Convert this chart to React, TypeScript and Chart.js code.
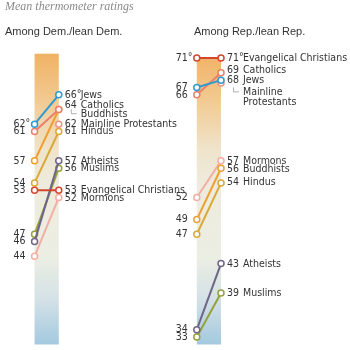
import React, { useEffect, useRef } from "react";
import { Chart, registerables } from "chart.js";
Chart.register(...registerables);

// ---- data ----
const GROUPS = [
  "Jews",
  "Catholics",
  "Buddhists",
  "Mainline Protestants",
  "Hindus",
  "Atheists",
  "Muslims",
  "Evangelical Christians",
  "Mormons",
];
const DEM_2014: (number | null)[] = [62, 61, 57, null, 54, 46, 47, 53, 44];
const DEM_2017: number[] = [66, 64, 64, 62, 61, 57, 56, 53, 52];
const REP_2014: (number | null)[] = [67, 66, 49, null, 47, 34, 33, 71, 52];
const REP_2017: number[] = [68, 69, 56, 67.6, 54, 43, 39, 71, 57];
const PANEL_TITLES = ["Among Dem./lean Dem.", "Among Rep./lean Rep."];
const CHART_TITLE = "Mean thermometer ratings";

// ---- styles / layout ----
const COLORS = [
  "#2E9AD0",
  "#E9806C",
  "#EF9F2E",
  "#EE9384",
  "#D9A935",
  "#6F6587",
  "#97A13A",
  "#D4462D",
  "#F4AEA3",
];
const DRAW_ORDER = [7, 0, 1, 2, 3, 4, 5, 6, 8];
const DEM_X = [0, 1];
const REP_X = [6.7, 7.7];
const DEM_RIGHT_DY = [0, -4, 4.7, 0, 0, 0, 0, 0, 0.7];
const REP_RIGHT_DY = [-0.3, -2.2, 0.7, 9.3, -0.8, 0.2, 0, 0, 0.3];
const DEM_SHARED = [false, false, true, false, false, false, false, false, false];
const REP_SHARED = [false, false, false, true, false, false, false, false, false];
const REP_NAME_LINES: Record<number, string[]> = { 3: ["Mainline", "Protestants"] };
const BAR_TOP = [71.6, 70.9];
const LABEL_FONT = '10.5px "Liberation Sans Narrow", "DejaVu Sans Condensed", Arial, sans-serif';
const TEXT = "#333333";

export default function App() {
  const ref = useRef<HTMLCanvasElement | null>(null);
  useEffect(() => {
    if (!ref.current) return;
    const datasets: any[] = [];
    const panels = [
      { x: DEM_X, a: DEM_2014, b: DEM_2017 },
      { x: REP_X, a: REP_2014, b: REP_2017 },
    ];
    panels.forEach((p) => {
      DRAW_ORDER.forEach((i) => {
        const data: any[] = [];
        if (p.a[i] != null) data.push({ x: p.x[0], y: p.a[i] });
        data.push({ x: p.x[1], y: p.b[i] });
        datasets.push({
          label: GROUPS[i],
          data,
          borderColor: COLORS[i],
          backgroundColor: "#ffffff",
          pointBackgroundColor: "#ffffff",
          pointBorderColor: COLORS[i],
          pointBorderWidth: 1.5,
          pointRadius: 3,
          borderWidth: 2,
          tension: 0,
        });
      });
    });

    const bars = {
      id: "bars",
      beforeDatasetsDraw(chart: any) {
        const { ctx, scales, chartArea } = chart;
        const xs = scales.x;
        const ys = scales.y;
        const g0 = ys.getPixelForValue(72);
        const g1 = ys.getPixelForValue(32);
        [DEM_X, REP_X].forEach((px, k) => {
          const x0 = xs.getPixelForValue(px[0]);
          const x1 = xs.getPixelForValue(px[1]);
          const top = ys.getPixelForValue(BAR_TOP[k]);
          const grad = ctx.createLinearGradient(0, g0, 0, g1);
          grad.addColorStop(0, "#F0B061");
          grad.addColorStop(0.175, "#F2CB94");
          grad.addColorStop(0.34, "#EFE4CC");
          grad.addColorStop(0.45, "#EEEBDD");
          grad.addColorStop(0.7, "#ECEEE3");
          grad.addColorStop(0.85, "#D3E1E6");
          grad.addColorStop(1, "#A3C9DF");
          ctx.save();
          ctx.fillStyle = grad;
          ctx.fillRect(x0, top, x1 - x0, chartArea.bottom - top);
          ctx.restore();
        });
      },
    };

    const labels = {
      id: "labels",
      afterDatasetsDraw(chart: any) {
        const { ctx, scales } = chart;
        const xs = scales.x;
        const ys = scales.y;
        ctx.save();
        ctx.textBaseline = "middle";
        // title
        ctx.fillStyle = "#8a8a8a";
        ctx.font = 'italic 12px "Liberation Serif", "Times New Roman", serif';
        ctx.textAlign = "left";
        ctx.fillText(CHART_TITLE, 5, 7);
        ctx.fillStyle = TEXT;
        ctx.font = '11px "Liberation Sans", Arial, sans-serif';
        ctx.fillText(PANEL_TITLES[0], 5, 32);
        ctx.fillText(PANEL_TITLES[1], 194, 32);

        ctx.font = LABEL_FONT;
        const cfg = [
          { x: DEM_X, a: DEM_2014, b: DEM_2017, dy: DEM_RIGHT_DY, shared: DEM_SHARED, lines: {} as Record<number, string[]> },
          { x: REP_X, a: REP_2014, b: REP_2017, dy: REP_RIGHT_DY, shared: REP_SHARED, lines: REP_NAME_LINES },
        ];
        cfg.forEach((p) => {
          const xl = xs.getPixelForValue(p.x[0]);
          const xr = xs.getPixelForValue(p.x[1]);
          const maxA = Math.max(...(p.a.filter((v) => v != null) as number[]));
          const maxB = Math.max(...p.b);
          // left values
          p.a.forEach((v) => {
            if (v == null) return;
            const y = ys.getPixelForValue(v);
            ctx.textAlign = "right";
            ctx.fillText(String(Math.round(v)), xl - 9, y);
            if (v === maxA) {
              ctx.textAlign = "left";
              ctx.fillText("°", xl - 9, y - 0.5);
            }
          });
          // right values + names
          p.b.forEach((v, i) => {
            const y = ys.getPixelForValue(v) + p.dy[i];
            const numX = xr + 6;
            const nameX = xr + 22;
            ctx.textAlign = "left";
            if (!p.shared[i]) {
              const s = String(Math.round(v));
              ctx.fillText(s, numX, y);
              if (v === maxB) ctx.fillText("°", numX + ctx.measureText(s).width, y - 0.5);
            } else {
              ctx.save();
              ctx.strokeStyle = "#b0b0b0";
              ctx.lineWidth = 1;
              ctx.beginPath();
              const lx = numX + 6;
              ctx.moveTo(lx + 0.5, y - 5);
              ctx.lineTo(lx + 0.5, y - 0.5);
              ctx.lineTo(nameX - 4, y - 0.5);
              ctx.stroke();
              ctx.restore();
            }
            const lines = p.lines[i] || [GROUPS[i]];
            lines.forEach((t, j) => ctx.fillText(t, nameX, y + j * 10));
          });
        });
        ctx.restore();
      },
    };

    const chart = new Chart(ref.current, {
      type: "line",
      data: { datasets },
      options: {
        responsive: false,
        animation: false,
        devicePixelRatio: 1,
        layout: { padding: 0 },
        plugins: { legend: { display: false }, tooltip: { enabled: false } },
        scales: {
          x: { type: "linear", min: -1.2, max: 12.8, display: false },
          y: { type: "linear", min: 31.98, max: 78.17, display: false },
        },
      },
      plugins: [bars, labels],
    });
    return () => chart.destroy();
  }, []);
  return (
    <div style={{ position: "absolute", left: 0, top: 0, width: 350, height: 350, background: "#fff" }}>
      <canvas ref={ref} width={350} height={350} />
    </div>
  );
}
